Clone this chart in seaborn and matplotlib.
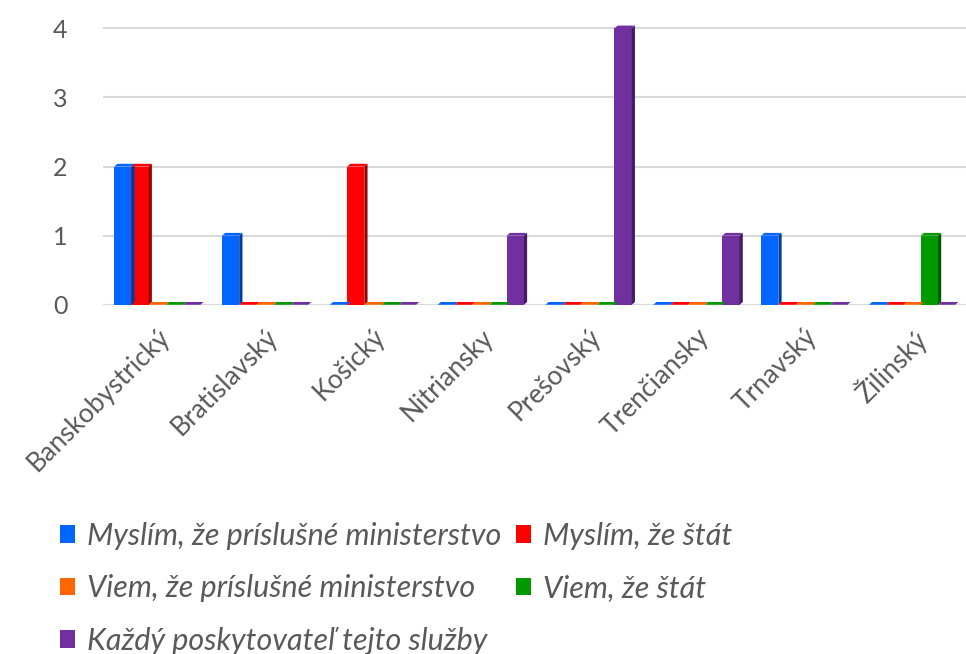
import matplotlib
matplotlib.use("Agg")
import matplotlib.pyplot as plt
import seaborn as sns
import pandas as pd
import numpy as np
from matplotlib.patches import Polygon
from matplotlib import colors as mcolors

regions = ["Banskobystrický", "Bratislavský", "Košický", "Nitriansky",
           "Prešovský", "Trenčiansky", "Trnavský", "Žilinský"]
series = ["Myslím, že príslušné ministerstvo", "Myslím, že štát",
          "Viem, že príslušné ministerstvo", "Viem, že štát",
          "Každý poskytovateľ tejto služby"]
myslim_min = [2, 1, 0, 0, 0, 0, 1, 0]
myslim_stat = [2, 0, 2, 0, 0, 0, 0, 0]
viem_min = [0, 0, 0, 0, 0, 0, 0, 0]
viem_stat = [0, 0, 0, 0, 0, 0, 0, 1]
kazdy = [0, 0, 0, 1, 4, 1, 0, 0]
palette = ["#0066FF", "#FF0000", "#FF6600", "#009900", "#7030A0"]

rows = []
for s, vals in zip(series, [myslim_min, myslim_stat, viem_min, viem_stat, kazdy]):
    for r, v in zip(regions, vals):
        rows.append({"Kraj": r, "Séria": s, "Počet": v})
df = pd.DataFrame(rows)

sns.set_theme(style="white")
plt.rcParams['font.family'] = ['Lato', 'DejaVu Sans']

fig = plt.figure(figsize=(9.66, 6.54), dpi=100)
ax = fig.add_axes([0.107, 0.534, 0.893, 0.4385])

sns.barplot(data=df, x="Kraj", y="Počet", hue="Séria", hue_order=series,
            order=regions, palette=palette, width=0.8, saturation=1,
            ax=ax, legend=True, linewidth=0)

# 3D-like side and top faces
dx = 0.03
dy = 0.04
for patch in list(ax.patches):
    if not hasattr(patch, "get_x"):
        continue
    x0 = patch.get_x(); w = patch.get_width(); h = patch.get_height()
    fc = patch.get_facecolor()
    dark = tuple(np.array(mcolors.to_rgb(fc)) * 0.6)
    side = Polygon([[x0 + w, 0], [x0 + w + dx, dy], [x0 + w + dx, h + dy], [x0 + w, h]],
                   closed=True, facecolor=dark, edgecolor="none", zorder=patch.get_zorder())
    top = Polygon([[x0, h], [x0 + dx, h + dy], [x0 + w + dx, h + dy], [x0 + w, h]],
                  closed=True, facecolor=fc, edgecolor="none", zorder=patch.get_zorder())
    ax.add_patch(side)
    ax.add_patch(top)

ax.set_ylim(0, 4.15)
ax.set_xlim(-0.5, 7.5)
ax.set_yticks([0, 1, 2, 3, 4])
ax.yaxis.grid(True, color="#D9D9D9", linewidth=1.5)
ax.set_axisbelow(True)
for sp in ax.spines.values():
    sp.set_visible(False)
ax.set_xlabel("")
ax.set_ylabel("")
ax.tick_params(axis="y", labelsize=18, colors="#595959", pad=26, length=0)
ax.tick_params(axis="x", labelsize=19, colors="#595959", length=0, pad=14)
for lab in ax.get_xticklabels():
    lab.set_rotation(45)
    lab.set_ha("right")
    lab.set_rotation_mode("anchor")

handles, labels = ax.get_legend_handles_labels()
ax.get_legend().remove()
order = [0, 2, 4, 1, 3]
leg = fig.legend([handles[i] for i in order], [labels[i] for i in order],
                 loc="upper left", bbox_to_anchor=(0.062, 0.202), ncol=2,
                 frameon=False, fontsize=22, handlelength=0.5, handleheight=0.5,
                 handletextpad=0.4, columnspacing=0.45, labelspacing=0.8,
                 borderaxespad=0, borderpad=0)
for t in leg.get_texts():
    t.set_color("#595959")
    t.set_fontstyle("italic")

fig.savefig("out.png", dpi=100)
